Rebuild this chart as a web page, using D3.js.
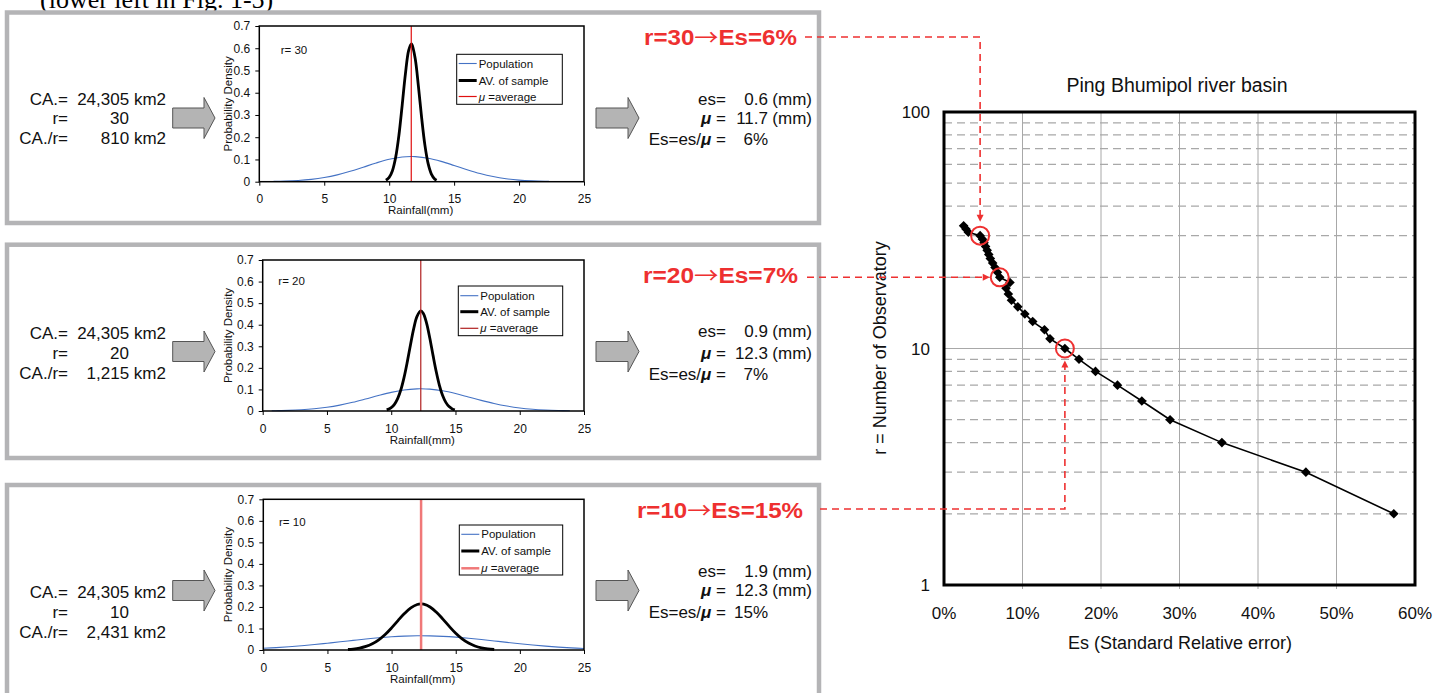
<!DOCTYPE html>
<html><head><meta charset="utf-8">
<script src="https://cdn.jsdelivr.net/npm/d3@7"></script>
<style>body{margin:0;background:#fff;} svg{display:block;font-family:"Liberation Sans",Arial,sans-serif;}</style>
</head><body><svg id="c" width="1438" height="693"></svg>
<script>
// ---------------- data ----------------
const rainTicks = [0,5,10,15,20,25];
const densTicks = [0,0.1,0.2,0.3,0.4,0.5,0.6,0.7];
const legendLabels = ["Population","AV. of sample","=average"];
const panelR = ["30","20","10"];
const panelCA = ["24,305 km2","24,305 km2","24,305 km2"];
const panelCAr = ["810 km2","1,215 km2","2,431 km2"];
const panelEsMm = ["0.6","0.9","1.9"];
const panelMu = [11.7,12.3,12.3];
const panelEsPct = ["6%","7%","15%"];
const calloutLeft = ["r=30","r=20","r=10"];
const calloutRight = ["Es=6%","Es=7%","Es=15%"];

const pop30 = [[1.1,0.0013],[2,0.0026],[3,0.0054],[4,0.0105],[5,0.0187],[6,0.0307],[7,0.0466],[8,0.0653],[9,0.0843],[10,0.1006],[11,0.1108],[11.7,0.113],[12,0.1126],[13,0.1056],[14,0.0914],[15,0.073],[16,0.0538],[17,0.0366],[18,0.023],[19,0.0133],[20,0.0071],[21,0.0035],[22,0.0016],[22.3,0.0013]];
const avg30 = [[9.75,0.0065],[10,0.0192],[10.25,0.0495],[10.5,0.1097],[10.75,0.209],[11,0.3434],[11.25,0.485],[11.5,0.59],[11.7,0.619],[11.75,0.617],[12,0.555],[12.25,0.43],[12.5,0.287],[12.75,0.1644],[13,0.0811],[13.25,0.0345],[13.5,0.0126],[13.65,0.0065]];
const pop20 = [[0.7,0.0011],[1,0.0015],[2,0.003],[3,0.0057],[4,0.0103],[5,0.0174],[6,0.0274],[7,0.0403],[8,0.0556],[9,0.0716],[10,0.0863],[11,0.0973],[12,0.1027],[12.3,0.103],[13,0.1013],[14,0.0935],[15,0.0808],[16,0.0652],[17,0.0493],[18,0.0348],[19,0.023],[20,0.0142],[21,0.0082],[22,0.0045],[23,0.0023],[23.9,0.0011]];
const avg20 = [[9.65,0.005],[10,0.0153],[10.25,0.0308],[10.5,0.0573],[10.75,0.0984],[11,0.156],[11.25,0.2277],[11.5,0.307],[11.75,0.3818],[12,0.4378],[12.3,0.464],[12.5,0.4522],[12.75,0.4072],[13,0.3383],[13.25,0.259],[13.5,0.1831],[13.75,0.1193],[14,0.0718],[14.25,0.0399],[14.5,0.0204],[14.75,0.0096],[14.95,0.005]];
const pop10 = [[0,0.0081],[1,0.0112],[2,0.0151],[3,0.0199],[4,0.0253],[5,0.0315],[6,0.038],[7,0.0447],[8,0.0511],[9,0.0568],[10,0.0613],[11,0.0645],[12,0.066],[13,0.0655],[14,0.0634],[15,0.0597],[16,0.0546],[17,0.0486],[18,0.042],[19,0.0354],[20,0.029],[21,0.0231],[22,0.0179],[23,0.0135],[24,0.0099],[25,0.007]];
const avg10 = [[6.6,0.0024],[7,0.0044],[7.5,0.0088],[8,0.0165],[8.5,0.029],[9,0.0474],[9.5,0.0722],[10,0.1028],[10.5,0.1366],[11,0.1693],[11.5,0.1959],[12,0.2113],[12.3,0.214],[12.5,0.2128],[13,0.2],[13.5,0.1753],[14,0.1434],[14.5,0.1095],[15,0.0779],[15.5,0.0518],[16,0.0321],[16.5,0.0186],[17,0.01],[17.5,0.0051],[18,0.0024]];

const obsR  = [2,3,4,5,6,7,8,9,10,11,12,13,14,15,16,17,18,19,20,21,22,23,24,25,26,27,28,29,30,31,32,33];
const obsEs = [0.573,0.461,0.354,0.288,0.252,0.221,0.193,0.172,0.154,0.135,0.128,0.113,0.103,0.094,0.086,0.082,0.079,0.084,0.071,0.068,0.065,0.062,0.059,0.057,0.055,0.053,0.051,0.049,0.046,0.031,0.028,0.025];
const esTicks = [0,0.1,0.2,0.3,0.4,0.5,0.6];
const rTicks = [1,10,100];
const rDashGrid = [2,3,4,5,6,7,8,9,20,30,40,50,60,70,80,90];
const highlightR = [30,20,10];

// ---------------- drawing ----------------
const svg = d3.select("#c");
const RED = "#ee3030";

// top caption (partly above the visible area, as in the source figure)
svg.append("text").attr("x",40).attr("y",8).attr("font-family","'Liberation Serif','Times New Roman',serif")
  .attr("font-size",26).text("(lower left in Fig. 1-5)");

const panels = [
  {top:12.5,bot:223, chart:{L:259.3,R:584,T:26,B:181.7}, leg:{x:456.7,y:54.3,w:105.6,h:50,rows:[63.5,80.5,96.5]}, rlab:[280.7,50],
   rows:[99,118,138], rrows:[99.3,118.3,139], cy:118, pop:pop30, avg:avg30, muColor:"#e01010", muW:1.2, callY:37},
  {top:244.7,bot:458, chart:{L:262.7,R:584,T:260,B:411}, leg:{x:458.3,y:286,w:104.4,h:49.7,rows:[295.7,311.7,328.3]}, rlab:[278.3,280.7],
   rows:[332.7,352.7,372.7], rrows:[331,353.3,374], cy:351.5, pop:pop20, avg:avg20, muColor:"#b02020", muW:1.2, callY:275},
  {top:485,bot:720, chart:{L:263.3,R:584,T:499.3,B:650}, leg:{x:459.3,y:525,w:103.4,h:50,rows:[534.3,551,568.3]}, rlab:[279,521.7],
   rows:[591.7,611.7,631.7], rrows:[570.7,590,611.7], cy:590.5, pop:pop10, avg:avg10, muColor:"#f07878", muW:2.5, callY:510}
];

function blockArrow(x0, xh, xt, cy) {
  return `M${x0},${cy-10}H${xh}V${cy-20.5}L${xt},${cy}L${xh},${cy+20.5}V${cy+10}H${x0}Z`;
}

panels.forEach((p,i) => {
  svg.append("rect").attr("x",7).attr("y",p.top).attr("width",812).attr("height",p.bot-p.top)
    .attr("fill","none").attr("stroke","#b4b4b6").attr("stroke-width",4.5);

  const fs = 17;
  const lt = svg.append("g").attr("font-size",fs).attr("fill","#111");
  ["CA.=","r=","CA./r="].forEach((s,k)=>{
    lt.append("text").attr("x",68).attr("y",p.rows[k]+6).attr("text-anchor","end").text(s);
  });
  lt.append("text").attr("x",166).attr("y",p.rows[0]+6).attr("text-anchor","end").text(panelCA[i]);
  lt.append("text").attr("x",129).attr("y",p.rows[1]+6).attr("text-anchor","end").text(panelR[i]);
  lt.append("text").attr("x",166).attr("y",p.rows[2]+6).attr("text-anchor","end").text(panelCAr[i]);

  svg.append("path").attr("d",blockArrow(172.7,204,215,p.cy)).attr("fill","#b4b4b4").attr("stroke","#555").attr("stroke-width",1);
  svg.append("path").attr("d",blockArrow(596,628,639,p.cy)).attr("fill","#b4b4b4").attr("stroke","#555").attr("stroke-width",1);

  const rt = svg.append("g").attr("font-size",fs).attr("fill","#111");
  rt.append("text").attr("x",726).attr("y",p.rrows[0]+6).attr("text-anchor","end").text("es=");
  const t2 = rt.append("text").attr("x",726).attr("y",p.rrows[1]+6).attr("text-anchor","end");
  t2.append("tspan").attr("font-style","italic").attr("font-weight","bold").text("\u03bc"); t2.append("tspan").text(" =");
  const t3 = rt.append("text").attr("x",726).attr("y",p.rrows[2]+6).attr("text-anchor","end");
  t3.append("tspan").text("Es=es/"); t3.append("tspan").attr("font-style","italic").attr("font-weight","bold").text("\u03bc"); t3.append("tspan").text(" =");
  rt.append("text").attr("x",768).attr("y",p.rrows[0]+6).attr("text-anchor","end").text(panelEsMm[i]);
  rt.append("text").attr("x",768).attr("y",p.rrows[1]+6).attr("text-anchor","end").text(d3.format(".1f")(panelMu[i]));
  rt.append("text").attr("x",768).attr("y",p.rrows[2]+6).attr("text-anchor","end").text(panelEsPct[i]);
  rt.append("text").attr("x",812).attr("y",p.rrows[0]+6).attr("text-anchor","end").text("(mm)");
  rt.append("text").attr("x",812).attr("y",p.rrows[1]+6).attr("text-anchor","end").text("(mm)");

  // ---- small chart ----
  const c = p.chart;
  const x = d3.scaleLinear().domain([0,25]).range([c.L,c.R]);
  const y = d3.scaleLinear().domain([0,0.7]).range([c.B,c.T]);
  const g = svg.append("g");
  const ax = g.append("g").attr("transform",`translate(0,${c.B})`)
    .call(d3.axisBottom(x).tickValues(rainTicks).tickSize(4).tickPadding(9).tickFormat(d3.format("d")));
  ax.select(".domain").remove();
  ax.selectAll("text").attr("font-size",12).attr("font-family","'Liberation Sans',Arial,sans-serif").attr("fill","#111");
  ax.selectAll("line").attr("stroke","#000");
  const ay = g.append("g").attr("transform",`translate(${c.L},0)`)
    .call(d3.axisLeft(y).tickValues(densTicks).tickSize(4).tickPadding(5).tickFormat(d=>d===0?"0":d3.format(".1f")(d)));
  ay.select(".domain").remove();
  ay.selectAll("text").attr("font-size",12).attr("font-family","'Liberation Sans',Arial,sans-serif").attr("fill","#111");
  ay.selectAll("line").attr("stroke","#000");

  g.append("text").attr("x",(c.L+c.R)/2-1).attr("y",c.B+32.5).attr("text-anchor","middle").attr("font-size",11.5).attr("fill","#111").text("Rainfall(mm)");
  g.append("text").attr("transform",`translate(232,${(c.T+c.B)/2}) rotate(-90)`).attr("text-anchor","middle").attr("font-size",11.5).attr("fill","#111").text("Probability Density");

  const line = d3.line().x(d=>x(d[0])).y(d=>y(d[1])).curve(d3.curveCatmullRom);
  g.append("path").attr("d",line(p.pop)).attr("fill","none").attr("stroke","#4472c4").attr("stroke-width",1.1);
  g.append("path").attr("d",line(p.avg)).attr("fill","none").attr("stroke","#000").attr("stroke-width",2.8);
  g.append("line").attr("x1",x(panelMu[i])).attr("x2",x(panelMu[i])).attr("y1",c.B).attr("y2",c.T)
    .attr("stroke",p.muColor).attr("stroke-width",p.muW);

  g.append("rect").attr("x",c.L).attr("y",c.T).attr("width",c.R-c.L).attr("height",c.B-c.T)
    .attr("fill","none").attr("stroke","#000").attr("stroke-width",1.5);

  g.append("text").attr("x",p.rlab[0]).attr("y",p.rlab[1]+4).attr("font-size",11.5).attr("fill","#111").text("r= "+panelR[i]);

  const L = p.leg;
  g.append("rect").attr("x",L.x).attr("y",L.y).attr("width",L.w).attr("height",L.h).attr("fill","#fff").attr("stroke","#000").attr("stroke-width",1);
  const legStyles = [["#4472c4",1.1],["#000",3],[p.muColor,p.muW]];
  legendLabels.forEach((s,k)=>{
    g.append("line").attr("x1",L.x+2).attr("x2",L.x+20).attr("y1",L.rows[k]).attr("y2",L.rows[k])
      .attr("stroke",legStyles[k][0]).attr("stroke-width",legStyles[k][1]);
    const t = g.append("text").attr("x",L.x+22).attr("y",L.rows[k]+4).attr("font-size",11.5).attr("fill","#111");
    if (k===2) { t.append("tspan").attr("font-style","italic").text("\u03bc "); }
    t.append("tspan").text(s);
  });

  // red callout
  const ct = svg.append("text").attr("x",[797,798,803][i]).attr("y",p.callY+8).attr("text-anchor","end")
    .attr("font-size",22).attr("font-weight","bold").attr("fill",RED)
    .attr("textLength",[153,155,166][i]).attr("lengthAdjust","spacingAndGlyphs");
  ct.append("tspan").text(calloutLeft[i]);
  ct.append("tspan").attr("font-family","'Noto Sans CJK JP','DejaVu Sans',sans-serif").attr("font-weight","normal").text("\u2192");
  ct.append("tspan").text(calloutRight[i]);
});

// ---------------- right chart ----------------
const rx = d3.scaleLinear().domain([0,0.6]).range([944,1415]);
const ry = d3.scaleLog().domain([1,100]).range([585,112]);
const G = svg.append("g");

G.selectAll(".vg").data(esTicks.slice(1,-1)).enter().append("line")
  .attr("x1",d=>rx(d)).attr("x2",d=>rx(d)).attr("y1",112).attr("y2",589).attr("stroke","#a8a8a8").attr("stroke-width",1);
G.selectAll(".hg").data(rDashGrid).enter().append("line")
  .attr("x1",944).attr("x2",1415).attr("y1",d=>ry(d)).attr("y2",d=>ry(d))
  .attr("stroke","#a8a8a8").attr("stroke-width",1.2).attr("stroke-dasharray","8,5");
G.append("line").attr("x1",944).attr("x2",1415).attr("y1",ry(10)).attr("y2",ry(10)).attr("stroke","#a8a8a8").attr("stroke-width",1.2);

G.selectAll(".xl").data(esTicks).enter().append("text").attr("x",d=>rx(d)).attr("y",619)
  .attr("text-anchor","middle").attr("font-size",17).attr("fill","#111").text(d3.format(".0%"));
G.selectAll(".yl").data(rTicks).enter().append("text").attr("x",930).attr("y",d=>ry(d)+6)
  .attr("text-anchor","end").attr("font-size",17).attr("fill","#111").text(d=>d);
G.append("text").attr("x",1180).attr("y",649).attr("text-anchor","middle").attr("font-size",18).attr("fill","#111").text("Es (Standard Relative error)");
G.append("text").attr("transform","translate(886,348) rotate(-90)").attr("text-anchor","middle").attr("font-size",18).attr("fill","#111").text("r = Number of Observatory");
G.append("text").attr("x",1177).attr("y",92).attr("text-anchor","middle").attr("font-size",19.5).attr("fill","#111").text("Ping Bhumipol river basin");

const pts = obsR.map((r,k)=>[obsEs[k],r]);
G.append("path").attr("d",d3.line().x(d=>rx(d[0])).y(d=>ry(d[1]))(pts)).attr("fill","none").attr("stroke","#000").attr("stroke-width",1.6);
G.selectAll(".mk").data(pts).enter().append("path")
  .attr("transform",d=>`translate(${rx(d[0])},${ry(d[1])})`).attr("d","M0,-4.8L4.8,0L0,4.8L-4.8,0Z").attr("fill","#000");

G.append("rect").attr("x",944).attr("y",112).attr("width",471).attr("height",473).attr("fill","none").attr("stroke","#000").attr("stroke-width",3);

const hp = highlightR.map(r=>[obsEs[obsR.indexOf(r)], r]);
hp.forEach(d=>{
  G.append("circle").attr("cx",rx(d[0])).attr("cy",ry(d[1])).attr("r",9).attr("fill","none").attr("stroke",RED).attr("stroke-width",2);
});
const dash = "7,5";
{
  const cx = rx(hp[0][0]), tipY = ry(hp[0][1]) - 14;
  G.append("path").attr("d",`M805,37H${cx}V${tipY-6}`).attr("fill","none").attr("stroke",RED).attr("stroke-width",1.6).attr("stroke-dasharray",dash);
  G.append("path").attr("d",`M${cx-3.5},${tipY-7}L${cx+3.5},${tipY-7}L${cx},${tipY}Z`).attr("fill",RED);
}
{
  const gy = ry(hp[1][1]), tipX = rx(hp[1][0]) - 10;
  G.append("path").attr("d",`M807,${gy}H${tipX-6}`).attr("fill","none").attr("stroke",RED).attr("stroke-width",1.6).attr("stroke-dasharray",dash);
  G.append("path").attr("d",`M${tipX-7},${gy-3.5}L${tipX-7},${gy+3.5}L${tipX},${gy}Z`).attr("fill",RED);
}
{
  const cx = rx(hp[2][0]), tipY = ry(hp[2][1]) + 12;
  G.append("path").attr("d",`M820,509H${cx}V${tipY+6}`).attr("fill","none").attr("stroke",RED).attr("stroke-width",1.6).attr("stroke-dasharray",dash);
  G.append("path").attr("d",`M${cx-3.5},${tipY+7}L${cx+3.5},${tipY+7}L${cx},${tipY}Z`).attr("fill",RED);
}
</script></body></html>
